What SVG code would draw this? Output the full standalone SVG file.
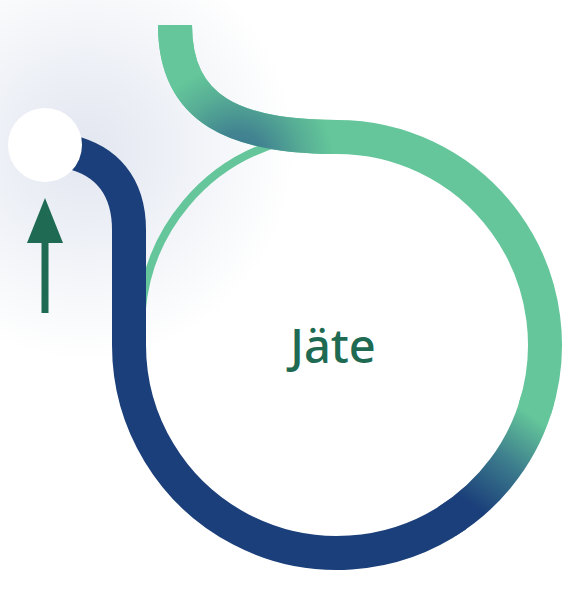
<svg xmlns="http://www.w3.org/2000/svg" width="578" height="598" viewBox="0 0 578 598">
  <style>
    .ring { fill: none; stroke-width: 34; stroke-linecap: butt; }
    .blue { stroke: #1b3f7a; }
    .green { stroke: #64c69a; }
    .thin { fill: none; stroke: #64c69a; stroke-width: 8; }
    .label { font-family: "Noto Sans", "Liberation Sans", sans-serif; font-size: 47px; font-weight: 500; fill: #1e6a52; }
    .arrow { fill: #1e6a52; }
  </style>
  <defs>
    <radialGradient id="glow" gradientUnits="userSpaceOnUse" cx="85" cy="150" r="210">
      <stop offset="0" stop-color="#e2e6f0"/>
      <stop offset="0.4" stop-color="#edf0f6"/>
      <stop offset="0.75" stop-color="#f8f9fb"/>
      <stop offset="1" stop-color="#ffffff"/>
    </radialGradient>
    <linearGradient id="bg2g" gradientUnits="userSpaceOnUse" x1="470.7" y1="504.3" x2="532.5" y2="416.1">
      <stop offset="0" stop-color="#1b3f7a"/>
      <stop offset="0.5" stop-color="#3b7a8c"/>
      <stop offset="1" stop-color="#64c69a"/>
    </linearGradient>
    <radialGradient id="tailShade" gradientUnits="userSpaceOnUse" cx="238" cy="160" r="95">
      <stop offset="0" stop-color="#3a7590"/>
      <stop offset="0.3" stop-color="#428591"/>
      <stop offset="0.7" stop-color="#57ae95"/>
      <stop offset="1" stop-color="#64c69a"/>
    </radialGradient>
  </defs>
  <rect width="578" height="598" fill="#ffffff"/>
  <rect width="578" height="598" fill="url(#glow)"/>
  <g id="connectors">
    <path class="thin" d="M141.7,310.3 A192,192 0 0 1 283.3,141.5"/>
    <path class="ring green" d="M175,25 C175,110 235,137 337,137 A208,208 0 0 1 534.8,409.3"/>
    <path class="ring" stroke="url(#tailShade)" d="M175,25 C175,110 235,137 337,137"/>
    <path class="ring" stroke="url(#bg2g)" d="M447,521.4 A208,208 0 0 0 537.9,398.8"/>
    <path class="ring blue" d="M70,152 C105,160 129,185 129,230 V345 A208,208 0 0 0 456.3,515.4"/>
  </g>
  <g id="start-node">
    <circle cx="45" cy="145" r="37" fill="#ffffff"/>
  </g>
  <g id="arrow">
    <rect class="arrow" x="41.5" y="238" width="7" height="75"/>
    <polygon class="arrow" points="45,198 63,243 27,243"/>
  </g>
  <g id="node-jate">
    <text class="label" x="333" y="363" text-anchor="middle">Jäte</text>
  </g>
</svg>
